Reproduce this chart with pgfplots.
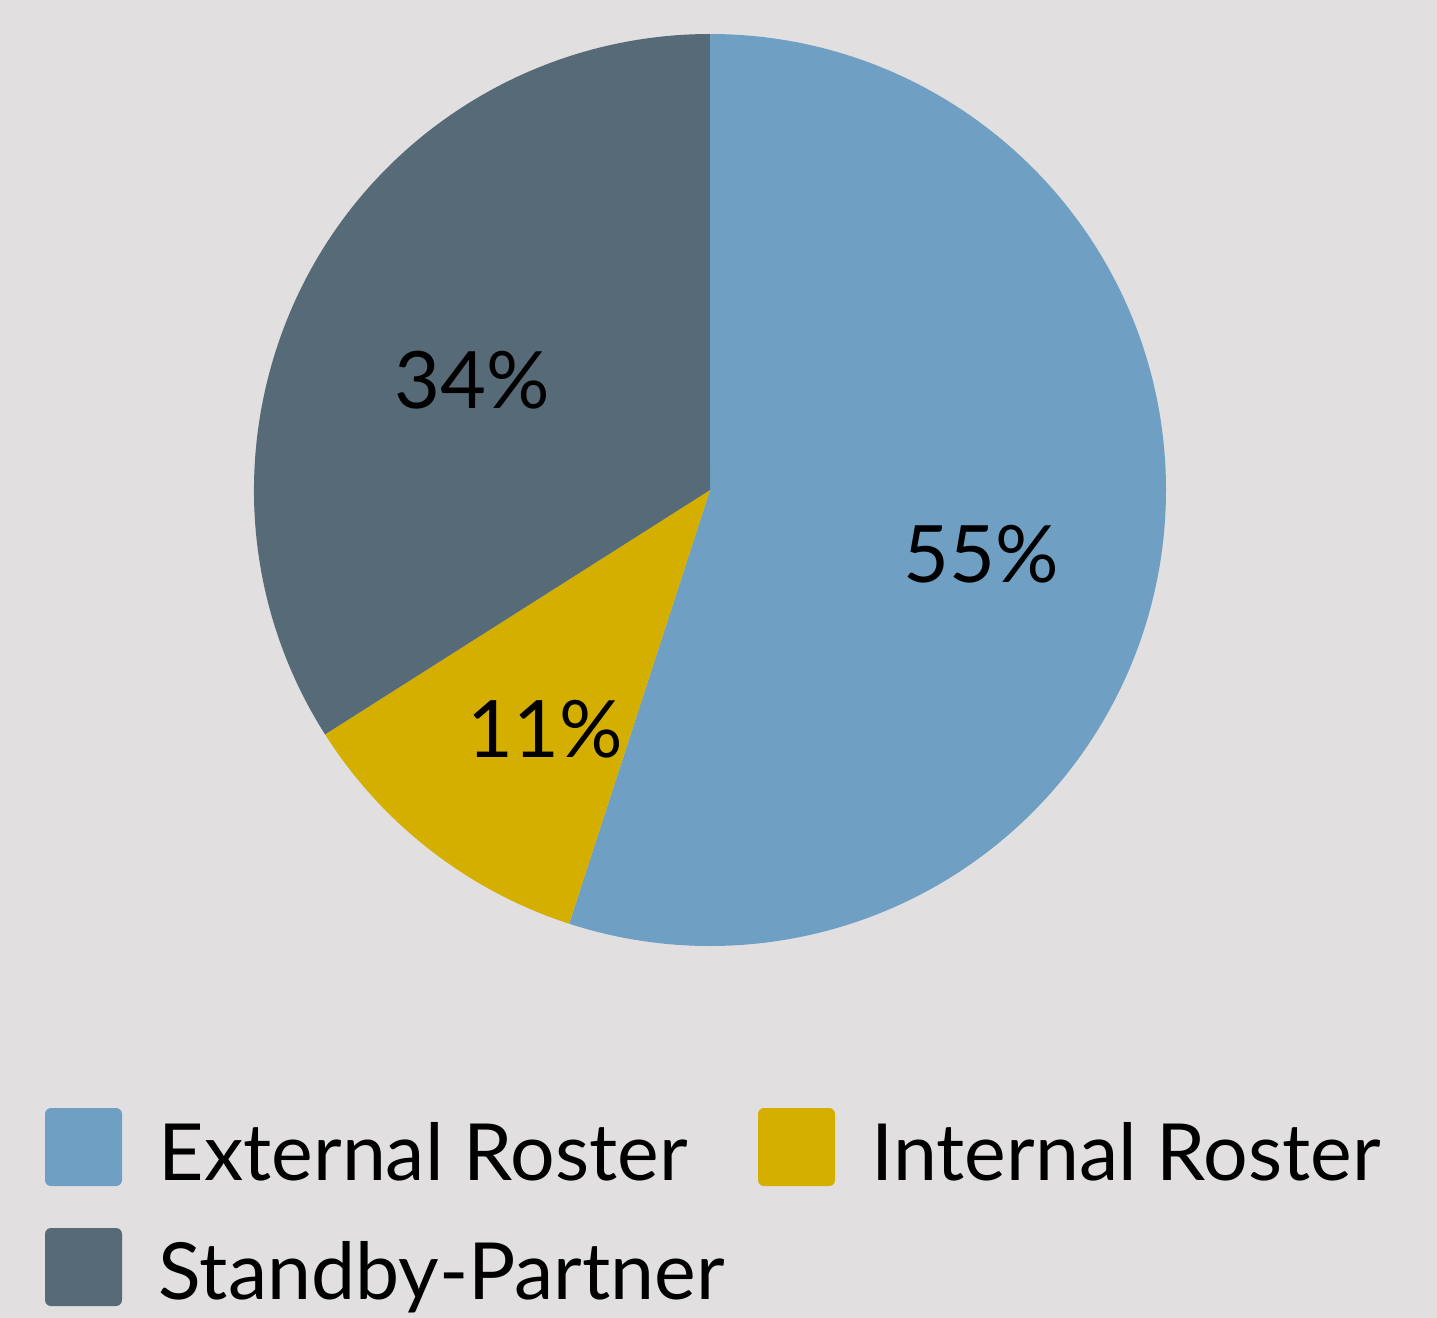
\documentclass[border=0pt]{standalone}
\usepackage{pgfplots}
\usepackage{pgfplotstable}
\pgfplotsset{compat=1.18}
\usepackage{fontspec}
\setmainfont{Lato}
\definecolor{bgc}{HTML}{E1DFE0}
\definecolor{extc}{HTML}{6FA0C4}
\definecolor{intc}{HTML}{D4AF00}
\definecolor{stbc}{HTML}{566A77}
\pgfplotstableread{
label share
External 55
Internal 11
Standby 34
}\piedata
\begin{document}
\begin{tikzpicture}
\pgfplotstablegetelem{0}{share}\of\piedata \pgfmathsetmacro{\va}{\pgfplotsretval}
\pgfplotstablegetelem{1}{share}\of\piedata \pgfmathsetmacro{\vb}{\pgfplotsretval}
\pgfplotstablegetelem{2}{share}\of\piedata \pgfmathsetmacro{\vc}{\pgfplotsretval}
\pgfmathsetmacro{\tot}{\va+\vb+\vc}
\pgfmathsetmacro{\aA}{90}
\pgfmathsetmacro{\aB}{90-\va/\tot*360}
\pgfmathsetmacro{\aC}{\aB-\vb/\tot*360}
\pgfmathsetmacro{\aD}{\aC-\vc/\tot*360}
\begin{axis}[
  x=0.25pt, y=0.25pt,
  xmin=0, xmax=1437, ymin=0, ymax=1318,
  y dir=reverse,
  hide axis,
  anchor=south west, at={(0,0)},
  clip=false,
]
\fill[bgc] (axis cs:0,0) rectangle (axis cs:1437,1318);
\fill[extc] (axis cs:710,490) -- ++(\aA:114pt) arc[start angle=\aA, end angle=\aB, radius=114pt] -- cycle;
\fill[intc] (axis cs:710,490) -- ++(\aB:114pt) arc[start angle=\aB, end angle=\aC, radius=114pt] -- cycle;
\fill[stbc] (axis cs:710,490) -- ++(\aC:114pt) arc[start angle=\aC, end angle=\aD, radius=114pt] -- cycle;
\node[anchor=base, font=\fontsize{19.8}{24}\selectfont, inner sep=0pt] at (axis cs:981,582) {55\%};
\node[anchor=base, font=\fontsize{19.8}{24}\selectfont, inner sep=0pt] at (axis cs:545,757) {11\%};
\node[anchor=base, font=\fontsize{19.8}{24}\selectfont, inner sep=0pt] at (axis cs:472,408) {34\%};
% legend
\fill[extc, rounded corners=1.5pt] (axis cs:45,1108) rectangle (axis cs:122,1186);
\fill[intc, rounded corners=1.5pt] (axis cs:758,1108) rectangle (axis cs:835,1186);
\fill[stbc, rounded corners=1.5pt] (axis cs:45,1228) rectangle (axis cs:122,1306);
\node[anchor=base west, font=\fontsize{19.7}{24}\selectfont, inner sep=0pt] at (axis cs:158,1180) {External Roster};
\node[anchor=base west, font=\fontsize{19.7}{24}\selectfont, inner sep=0pt] at (axis cs:871,1180) {Internal Roster};
\node[anchor=base west, font=\fontsize{19.7}{24}\selectfont, inner sep=0pt] at (axis cs:158,1299) {Standby-Partner};
\end{axis}
\end{tikzpicture}
\end{document}
